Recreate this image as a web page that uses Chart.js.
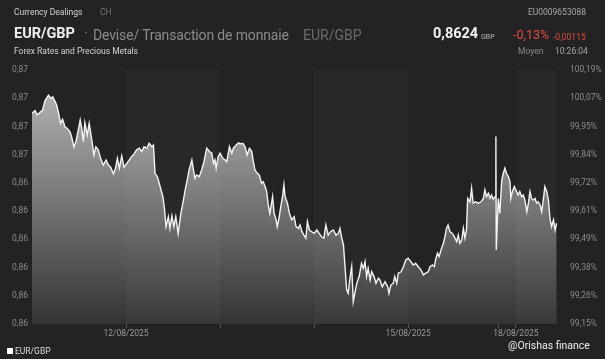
<!DOCTYPE html>
<html>
<head>
<meta charset="utf-8">
<script src="https://cdn.jsdelivr.net/npm/chart.js@4.4.1/dist/chart.umd.min.js"></script>
<style>
  html, body { margin: 0; padding: 0; background: #232323; }
  body { width: 605px; height: 359px; position: relative; overflow: hidden; font-family: Roboto, "Open Sans", sans-serif; }
  #chart { position: absolute; left: 0; top: 0; }
  .t { position: absolute; white-space: nowrap; line-height: 1; }
</style>
</head>
<body>
<canvas id="chart" width="605" height="359"></canvas>

<div class="t" style="left:14px;top:8px;font-size:8.5px;color:#d2d2d2;">Currency Dealings</div>
<div class="t" style="left:100px;top:8px;font-size:8.5px;color:#777;">CH</div>
<div class="t" style="right:19px;top:8px;font-size:8.5px;color:#a8a8a8;">EU0009653088</div>

<div class="t" style="left:14px;top:27px;font-size:14.5px;font-weight:bold;color:#eeeeee;">EUR/GBP</div>
<div class="t" style="left:84px;top:27px;font-size:14.5px;color:#8a8a8a;">·</div>
<div class="t" style="left:93px;top:28px;font-size:14px;letter-spacing:-0.15px;color:#8c8c8c;">Devise/ Transaction de monnaie</div>
<div class="t" style="left:303px;top:28px;font-size:14px;color:#6b6b6b;">EUR/GBP</div>

<div class="t" style="left:433px;top:27px;font-size:14.5px;font-weight:bold;color:#f2f2f2;">0,8624</div>
<div class="t" style="left:481px;top:34px;font-size:7px;color:#bcbcbc;">GBP</div>
<div class="t" style="left:513px;top:29px;font-size:12.5px;color:#e14a42;">-0,13%</div>
<div class="t" style="left:553px;top:33px;font-size:8.5px;color:#e14a42;">-0,00115</div>

<div class="t" style="left:14px;top:47px;font-size:8.5px;color:#d2d2d2;">Forex Rates and Precious Metals</div>
<div class="t" style="left:518px;top:47px;font-size:8.5px;color:#8a8a8a;">Moyen</div>
<div class="t" style="left:555px;top:47px;font-size:8.5px;color:#a8a8a8;">10:26:04</div>

<div class="t" style="left:7px;top:348px;width:6px;height:6px;background:#ffffff;"></div>
<div class="t" style="left:15px;top:347px;font-size:8.5px;color:#dcdcdc;">EUR/GBP</div>
<div class="t" style="left:508px;top:341px;font-size:10.5px;color:#eeeeee;">@Orishas finance</div>

<script>
// trading hours counted from 11/08 00:00 (weekend compressed)
const hours = [
  0, 0.8, 1.3, 2.0, 2.7, 3.3, 4.2, 4.8, 5.3, 5.9,
  6.3, 6.7, 7.3, 7.8, 8.4, 9.0, 9.7, 10.1, 10.7, 11.2,
  11.8, 12.3, 12.7, 13.1, 13.5, 14.1, 14.6, 15.2, 15.8, 16.3,
  16.9, 17.5, 18.2, 18.9, 19.5, 20.1, 20.8, 21.3, 21.8, 22.3,
  22.9, 23.5, 24.2, 24.8, 25.4, 26.0, 26.7, 27.4, 28.0, 28.6,
  29.3, 29.9, 30.6, 31.0, 31.4, 32.0, 32.7, 33.4, 33.8, 34.2,
  34.8, 35.2, 35.7, 36.2, 36.7, 37.3, 38.0, 38.5, 39.1, 39.6,
  40.1, 40.8, 41.2, 41.6, 42.0, 42.7, 43.3, 43.9, 44.6, 45.3,
  45.9, 46.3, 46.7, 47.0, 47.5, 48.0, 48.7, 49.3, 49.7, 50.4,
  51.0, 51.4, 52.1, 52.7, 53.3, 53.8, 54.4, 54.9, 55.5, 56.1,
  56.5, 56.9, 57.5, 58.0, 58.6, 59.0, 59.5, 59.9, 60.3, 60.7,
  61.2, 61.4, 61.8, 62.3, 62.6, 63.1, 63.5, 64.0, 64.3, 64.6,
  65.2, 65.7, 66.3, 66.9, 67.4, 68.0, 68.4, 68.9, 69.4, 69.9,
  70.3, 70.8, 71.4, 72.0, 72.7, 73.3, 73.9, 74.5, 75.0, 75.6,
  76.2, 76.9, 77.6, 78.2, 78.6, 79.0, 79.5, 79.9, 80.3, 80.7,
  81.2, 81.6, 82.0, 82.4, 82.9, 83.5, 84.1, 84.6, 85.0, 85.4,
  85.8, 86.3, 86.7, 87.3, 87.8, 88.4, 88.8, 89.4, 90.1, 90.8,
  91.1, 91.6, 92.2, 92.6, 93.1, 93.5, 94.2, 94.8, 95.4, 96.0,
  96.7, 97.3, 97.9, 98.6, 99.3, 99.9, 100.5, 101.1, 101.6, 102.2,
  102.7, 103.0, 103.5, 103.9, 104.4, 105.0, 105.4, 105.8, 106.2, 106.7,
  107.3, 107.8, 108.4, 108.8, 109.2, 109.7, 110.1, 110.5, 110.9, 111.2,
  111.8, 112.2, 112.6, 113.2, 113.9, 114.6, 115.2, 115.6, 116.0, 116.5,
  116.9, 117.3, 117.7, 118.2, 118.4, 118.5, 119.0, 119.4, 119.9, 120.3,
  120.7, 121.1, 121.6, 122.0, 122.2, 122.6, 123.1, 123.7, 124.1, 124.5,
  125.0, 125.4, 125.8, 126.3, 126.7, 127.1, 127.5, 127.9, 128.4, 128.8,
  129.2, 129.7, 130.1, 130.5, 130.9, 131.4, 131.8, 132.2, 132.6, 133.1,
  133.5, 133.9
];

const prices = [
  0.86647, 0.86656, 0.86641, 0.86649, 0.86658, 0.86691, 0.86711, 0.86700, 0.86705, 0.86688,
  0.86676, 0.86652, 0.86611, 0.86625, 0.86599, 0.86593, 0.86581, 0.86564, 0.86528, 0.86546,
  0.86587, 0.86623, 0.86593, 0.86546, 0.86613, 0.86570, 0.86611, 0.86558, 0.86499, 0.86528,
  0.86517, 0.86487, 0.86463, 0.86481, 0.86463, 0.86455, 0.86432, 0.86452, 0.86487, 0.86452,
  0.86495, 0.86455, 0.86469, 0.86481, 0.86493, 0.86502, 0.86517, 0.86523, 0.86511, 0.86528,
  0.86523, 0.86540, 0.86528, 0.86534, 0.86434, 0.86422, 0.86387, 0.86351, 0.86310, 0.86245,
  0.86280, 0.86239, 0.86283, 0.86245, 0.86280, 0.86221, 0.86292, 0.86328, 0.86375, 0.86410,
  0.86446, 0.86481, 0.86446, 0.86416, 0.86428, 0.86422, 0.86446, 0.86475, 0.86523, 0.86511,
  0.86505, 0.86469, 0.86481, 0.86452, 0.86493, 0.86505, 0.86487, 0.86481, 0.86475, 0.86528,
  0.86505, 0.86523, 0.86534, 0.86542, 0.86538, 0.86540, 0.86528, 0.86499, 0.86523, 0.86511,
  0.86475, 0.86446, 0.86434, 0.86428, 0.86399, 0.86404, 0.86387, 0.86369, 0.86322, 0.86292,
  0.86333, 0.86351, 0.86292, 0.86269, 0.86245, 0.86280, 0.86316, 0.86357, 0.86393, 0.86351,
  0.86328, 0.86292, 0.86269, 0.86280, 0.86245, 0.86239, 0.86251, 0.86227, 0.86215, 0.86204,
  0.86263, 0.86233, 0.86227, 0.86221, 0.86233, 0.86221, 0.86209, 0.86204, 0.86251, 0.86215,
  0.86227, 0.86233, 0.86215, 0.86221, 0.86239, 0.86209, 0.86180, 0.86103, 0.86021, 0.86009,
  0.86068, 0.86103, 0.85979, 0.86009, 0.86044, 0.86068, 0.86115, 0.86097, 0.86121, 0.86068,
  0.86097, 0.86056, 0.86085, 0.86068, 0.86044, 0.86062, 0.86056, 0.86032, 0.86050, 0.86032,
  0.86009, 0.86038, 0.86044, 0.86068, 0.86044, 0.86080, 0.86085, 0.86103, 0.86127, 0.86133,
  0.86121, 0.86109, 0.86115, 0.86103, 0.86091, 0.86074, 0.86080, 0.86085, 0.86103, 0.86109,
  0.86103, 0.86127, 0.86151, 0.86139, 0.86162, 0.86186, 0.86209, 0.86239, 0.86251, 0.86227,
  0.86221, 0.86209, 0.86192, 0.86215, 0.86186, 0.86198, 0.86239, 0.86204, 0.86233, 0.86345,
  0.86333, 0.86381, 0.86328, 0.86333, 0.86328, 0.86333, 0.86345, 0.86375, 0.86351, 0.86363,
  0.86345, 0.86357, 0.86342, 0.86351, 0.86564, 0.86162, 0.86345, 0.86292, 0.86410, 0.86434,
  0.86452, 0.86434, 0.86422, 0.86404, 0.86345, 0.86369, 0.86387, 0.86369, 0.86357, 0.86369,
  0.86351, 0.86357, 0.86339, 0.86298, 0.86328, 0.86369, 0.86345, 0.86339, 0.86345, 0.86328,
  0.86333, 0.86322, 0.86298, 0.86339, 0.86387, 0.86369, 0.86339, 0.86275, 0.86245, 0.86269,
  0.86233, 0.86257
];

// axis ticks
const priceTicks = [0.859, 0.860, 0.861, 0.862, 0.863, 0.864, 0.865, 0.866, 0.867, 0.868];
const priceLabels = ['0,86', '0,86', '0,86', '0,86', '0,86', '0,86', '0,87', '0,87', '0,87', '0,87'];
const pctLabels = ['99,15%', '99,26%', '99,38%', '99,49%', '99,61%', '99,72%', '99,84%', '99,95%', '100,07%', '100,19%'];
const dayTicks = [24, 48, 72, 96, 119, 123.5];
const dayLabels = ['12/08/2025', '', '', '15/08/2025', '', '18/08/2025'];
const lightBands = [[24, 48], [72, 96], [123.5, 134]];

// alternating day shading behind the series
const dayBands = {
  id: 'dayBands',
  beforeDatasetsDraw(chart) {
    const { ctx, chartArea, scales } = chart;
    ctx.save();
    ctx.fillStyle = '#282828';
    lightBands.forEach(([a, b]) => {
      const x1 = scales.x.getPixelForValue(a);
      const x2 = scales.x.getPixelForValue(b);
      ctx.fillRect(x1, chartArea.top, x2 - x1, chartArea.bottom - chartArea.top);
    });
    ctx.restore();
  }
};

const setTicks = list => scale => { scale.ticks = list.map(v => ({ value: v })); };

new Chart(document.getElementById('chart'), {
  type: 'line',
  data: {
    datasets: [{
      label: 'EUR/GBP',
      data: hours.map((h, i) => ({ x: h, y: prices[i] })),
      borderColor: '#f4f4f4',
      borderWidth: 1.4,
      pointRadius: 0,
      tension: 0,
      fill: 'start',
      backgroundColor: ctx => {
        const area = ctx.chart.chartArea;
        if (!area) return 'rgba(255,255,255,0.4)';
        const g = ctx.chart.ctx.createLinearGradient(0, area.top, 0, area.bottom);
        g.addColorStop(0, 'rgba(255,255,255,0.70)');
        g.addColorStop(1, 'rgba(255,255,255,0.08)');
        return g;
      }
    }]
  },
  options: {
    responsive: false,
    animation: false,
    layout: { padding: { left: 12, top: 70, right: 0, bottom: 0 } },
    plugins: { legend: { display: false }, tooltip: { enabled: false } },
    scales: {
      x: {
        type: 'linear', min: 0, max: 134,
        afterBuildTicks: setTicks(dayTicks),
        afterFit: s => { s.height = 35; },
        ticks: {
          callback: (v, i) => dayLabels[i],
          color: '#9a9a9a', font: { family: 'Roboto', size: 8.5 },
          maxRotation: 0, autoSkip: false, padding: 1
        },
        grid: { drawOnChartArea: false, drawTicks: true, tickLength: 4, color: '#555' },
        border: { display: false }
      },
      y: {
        position: 'left', min: 0.859, max: 0.868,
        afterBuildTicks: setTicks(priceTicks),
        afterFit: s => { s.width = 20; },
        ticks: {
          callback: (v, i) => priceLabels[i],
          crossAlign: 'far', color: '#8c8c8c', font: { family: 'Roboto', size: 8.5 }
        },
        grid: { display: false },
        border: { display: false }
      },
      y2: {
        position: 'right', min: 0.859, max: 0.868,
        afterBuildTicks: setTicks(priceTicks),
        afterFit: s => { s.width = 48; },
        ticks: {
          callback: (v, i) => pctLabels[i],
          padding: 5, color: '#8c8c8c', font: { family: 'Roboto', size: 8.5 }
        },
        grid: { display: false },
        border: { display: false }
      }
    }
  },
  plugins: [dayBands]
});
</script>
</body>
</html>
